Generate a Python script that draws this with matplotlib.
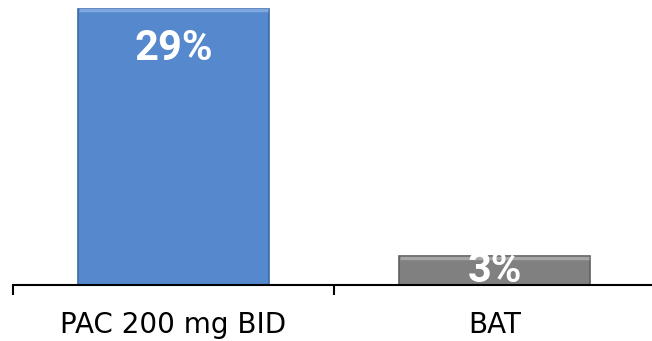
import matplotlib
matplotlib.use("Agg")
import matplotlib.pyplot as plt

groups = ["PAC 200 mg BID", "BAT"]
rates = [29, 3]
bar_colors = ["#5588cc", "#808080"]
edge_colors = ["#3d6aa8", "#606060"]
top_colors = ["#7fa8e0", "#a6a6a6"]

fig = plt.figure(figsize=(6.52, 3.41), dpi=100)
ax = fig.add_axes([13 / 652, 56 / 341, 642 / 652, 285 / 341])

x = list(range(len(groups)))
bars = ax.bar(x, rates, width=0.595, color=bar_colors,
              edgecolor=edge_colors, linewidth=1.2, zorder=2)

# light strip along the top of each bar for the bevelled look
for b, c in zip(bars, top_colors):
    ax.plot([b.get_x() + 0.004, b.get_x() + b.get_width() - 0.004],
            [b.get_height() - 0.12] * 2, color=c, lw=2.5, zorder=3,
            solid_capstyle="butt")

for xi, v in zip(x, rates):
    # tall bars get the label near the top, short ones in the middle
    y = v - 4.1 if v > 10 else v / 2
    ax.text(xi, y, f"{v}%", ha="center", va="center",
            color="white", fontsize=30, fontweight="bold",
            family="Roboto", zorder=4)

ax.set_xlim(-0.5, len(groups) - 0.5)
ax.set_ylim(0, 29.95)

for s in ["top", "right", "left"]:
    ax.spines[s].set_visible(False)
ax.spines["bottom"].set_linewidth(1.5)
ax.set_yticks([])

ax.set_xticks([i - 0.5 for i in range(len(groups) + 1)])
ax.set_xticklabels([])
ax.tick_params(axis="x", which="major", length=7.5, width=1.5, direction="out")
ax.set_xticks(x, minor=True)
ax.set_xticklabels(groups, minor=True, fontsize=20)
ax.tick_params(axis="x", which="minor", length=0, pad=19)

fig.savefig("out.png", dpi=100)
